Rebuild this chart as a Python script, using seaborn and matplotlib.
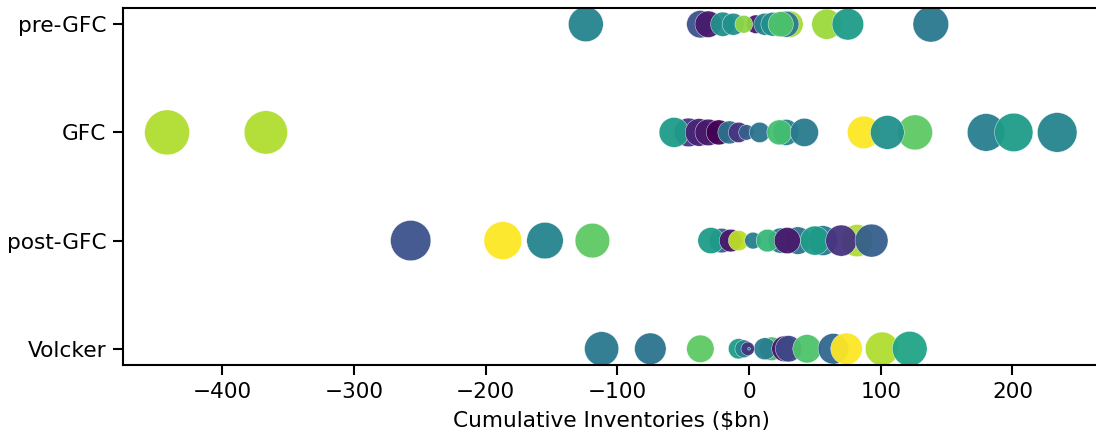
import matplotlib
matplotlib.use('Agg')
import matplotlib.pyplot as plt
import matplotlib.colors as mcolors
import numpy as np
import pandas as pd
import seaborn as sns

# Periods, top row first
periods = ["pre-GFC", "GFC", "post-GFC", "Volcker"]

# Cumulative inventory change per sector ($bn) and the sector's shade on viridis (0-1)
pre_gfc_values = [-124, -37, -31, -20, -12, 5, -4, 12, 18, 31, 28, 24, 59, 75, 138]
pre_gfc_shades = [0.45, 0.25, 0.07, 0.50, 0.50, 0.07, 0.83, 0.45, 0.50, 0.87, 0.41, 0.72, 0.85, 0.55, 0.40]

gfc_values = [-442, -367, -46, -57, -38, -31, -23, -15, -8, -2, 8, 28, 23, 42, 87, 126, 105, 180, 201, 234]
gfc_shades = [0.88, 0.88, 0.17, 0.55, 0.10, 0.07, 0.00, 0.37, 0.15, 0.30, 0.38, 0.45, 0.70, 0.41, 1.00, 0.75, 0.50, 0.42, 0.55, 0.45]

post_gfc_values = [-257, -187, -155, -119, -21, -29, -14, -8, 3, 24, 14, 37, 29, 56, 50, 82, 70, 93]
post_gfc_shades = [0.25, 1.00, 0.45, 0.75, 0.30, 0.55, 0.07, 0.90, 0.42, 0.40, 0.67, 0.38, 0.07, 0.40, 0.55, 0.88, 0.15, 0.30]

volcker_values = [-112, -75, -37, -8, -4, 17, 12, 27, 30, 44, 64, 74, 101, 122, -1, 0]
volcker_shades = [0.40, 0.38, 0.75, 0.55, 0.45, 0.70, 0.42, 0.07, 0.22, 0.72, 0.33, 1.00, 0.88, 0.58, 0.15, 0.45]

rows = []
for period, vals, shades in zip(periods,
                                [pre_gfc_values, gfc_values, post_gfc_values, volcker_values],
                                [pre_gfc_shades, gfc_shades, post_gfc_shades, volcker_shades]):
    for v, s in zip(vals, shades):
        rows.append({"period": period, "value": v, "shade": s})
df = pd.DataFrame(rows)
df["magnitude"] = df["value"].abs()

plt.rcParams.update({
    "font.size": 15.6,
    "axes.linewidth": 1.5,
    "xtick.major.size": 7,
    "ytick.major.size": 7,
    "xtick.major.width": 1.5,
    "ytick.major.width": 1.5,
    "xtick.major.pad": 5,
    "ytick.major.pad": 5,
})

fig = plt.figure(figsize=(10.96, 4.36), dpi=100)
ax = fig.add_axes([123 / 1096, 1 - 365 / 436, (1100 - 123) / 1096, (365 - 8) / 436])

sns.scatterplot(data=df, x="value", y="period", hue="shade", palette="viridis",
                hue_norm=(0, 1), size="magnitude", sizes=(4, 1050),
                size_norm=mcolors.PowerNorm(gamma=0.4, vmin=0, vmax=445),
                linewidth=0.3, edgecolor="white", alpha=0.95,
                legend=False, ax=ax)

ax.set_xlim(-475.5, 266.5)
ax.set_xlabel("Cumulative Inventories ($bn)", labelpad=7)
ax.set_ylabel("")

fig.savefig("out.png", dpi=100)
